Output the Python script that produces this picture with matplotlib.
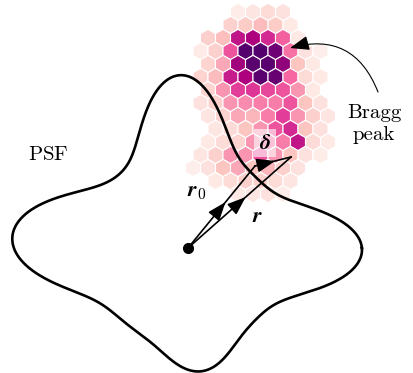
import numpy as np
import matplotlib
matplotlib.use("Agg")
import matplotlib.pyplot as plt
from matplotlib.patches import RegularPolygon, FancyArrowPatch
from matplotlib.collections import PatchCollection

_ = np.nan
# ---------------- data ----------------
# Bragg-peak intensity on a hexagonal detector grid
# rows top -> bottom, columns -1..8 (odd rows shifted half a cell left)
hex_columns = list(range(-1, 9))
hex_intensity = [
    [_,   _,   _,   .06, .10, .15, .12, _,   _,   _  ],
    [_,   _,   _,   .20, .22, .28, .22, .08, _,   _  ],
    [_,   .20, .27, .70, .75, .65, .52, .08, _,   _  ],
    [_,   .07, .20, .55, .97, .97, .90, .48, .12, .05],
    [_,   .18, .35, .78, .95, .95, .82, .25, .08, _  ],
    [_,   .18, .28, .68, .75, .95, .92, .50, .15, .08],
    [_,   .18, .40, .60, .62, .58, .55, .40, .08, _  ],
    [_,   .12, .20, .40, .42, .45, .45, .55, .25, .12],
    [_,   .10, .18, .35, .30, .45, .60, .40, .20, .10],
    [_,   _,   .10, .15, .25, .40, .55, .65, .25, .12],
    [_,   .08, .15, .18, .40, .50, .45, .70, .15, .08],
    [_,   .10, .20, .40, .40, .55, .40, .25, .12, .06],
    [.05, .12, .25, .35, .25, .30, .20, .12, _,   _  ],
    [_,   _,   .08, .15, .20, .20, .15, .10, _,   _  ],
    [_,   _,   _,   .08, .10, .12, .06, _,   _,   _  ],
]

# PSF contour: base radius plus four lobes (angle deg, height, sharpness)
psf_base_radius = 97.0
psf_lobe_angle = [-0.7, 92.6, 176.5, -84.0]
psf_lobe_height = [77.0, 76.0, 79.0, 27.0]
psf_lobe_sharpness = [16.0, 16.0, 13.0, 16.0]

# vectors (origin at the PSF centre)
vec_r0 = (67.0, 82.0)
vec_r = (103.0, 91.0)

labels_text = {"psf": r"$\mathrm{PSF}$", "bragg": "Bragg\npeak",
               "r0": r"$\mathbfit{r}_0$", "r": r"$\mathbfit{r}$",
               "delta": r"$\mathbfit{\delta}$"}

# ---------------- style ----------------
plt.rcParams["mathtext.fontset"] = "custom"
plt.rcParams["mathtext.rm"] = "cmr10"
plt.rcParams["mathtext.it"] = "cmmi10"
plt.rcParams["mathtext.bf"] = "cmb10"
plt.rcParams["mathtext.bfit"] = "STIXGeneral:italic:bold"

fig = plt.figure(figsize=(4.14, 3.73), dpi=100)
ax = fig.add_axes([0, 0, 1, 1])
ax.set_xlim(-188, 226)
ax.set_ylim(-125, 248)
ax.axis("off")

# hex grid
hx0, hy0, hdx, hdy = 20.0, 236.0, 15.0, 13.0
hrad = hdx / np.sqrt(3)
patches, vals = [], []
for ri, row in enumerate(hex_intensity):
    for ci, v in zip(hex_columns, row):
        if np.isnan(v):
            continue
        x = hx0 + hdx * ci - (hdx / 2 if ri % 2 else 0)
        y = hy0 - hdy * ri
        patches.append(RegularPolygon((x, y), numVertices=6, radius=hrad, orientation=0))
        vals.append(v)
pc = PatchCollection(patches, cmap="RdPu", edgecolor="white", linewidth=0.8, zorder=1)
pc.set_array(np.array(vals))
pc.set_clim(0, 1)
ax.add_collection(pc)

# PSF contour
th = np.linspace(0, 2 * np.pi, 1500)
rr = np.full_like(th, psf_base_radius)
for a, h, k in zip(psf_lobe_angle, psf_lobe_height, psf_lobe_sharpness):
    rr += h * np.exp(k * (np.cos(th - np.radians(a)) - 1))
ax.plot(rr * np.cos(th), rr * np.sin(th), color="black", lw=1.9, zorder=2,
        solid_joinstyle="round")

# vectors with mid arrowheads
def mid_arrow(p0, p1):
    p0, p1 = np.array(p0), np.array(p1)
    ax.plot([p0[0], p1[0]], [p0[1], p1[1]], color="black", lw=1.2, zorder=3)
    d = p1 - p0
    u = d / np.hypot(*d)
    tip = p0 + 0.56 * d
    ax.add_patch(FancyArrowPatch(tip - 12 * u, tip, arrowstyle="-|>,head_length=0.8,head_width=0.3",
                                 mutation_scale=14, color="black", lw=1.2,
                                 shrinkA=0, shrinkB=0, zorder=3))

mid_arrow((0, 0), vec_r0)
mid_arrow((0, 0), vec_r)
mid_arrow(vec_r0, vec_r)
ax.plot(0, 0, "o", color="black", ms=7, zorder=4)

# labels
ax.text(-140, 94, labels_text["psf"], fontsize=15, ha="center", va="center")
ax.text(186, 124, labels_text["bragg"], fontsize=15, ha="center", va="center",
        family="cmr10", linespacing=1.35)
ax.text(9, 56, labels_text["r0"], fontsize=16, ha="center", va="center", zorder=5)
ax.text(70, 32, labels_text["r"], fontsize=16, ha="center", va="center", zorder=5)
ax.text(77, 105, labels_text["delta"], fontsize=16, ha="center", va="center", zorder=5,
        bbox=dict(boxstyle="square,pad=0.2", fc="white", ec="none", alpha=0.6))

ax.add_patch(FancyArrowPatch((190, 156), (102, 200), connectionstyle="arc3,rad=0.45",
                             arrowstyle="-|>,head_length=0.85,head_width=0.32",
                             mutation_scale=14, color="black", lw=0.8,
                             shrinkA=0, shrinkB=0, zorder=5))

fig.savefig("out.png", dpi=100)
